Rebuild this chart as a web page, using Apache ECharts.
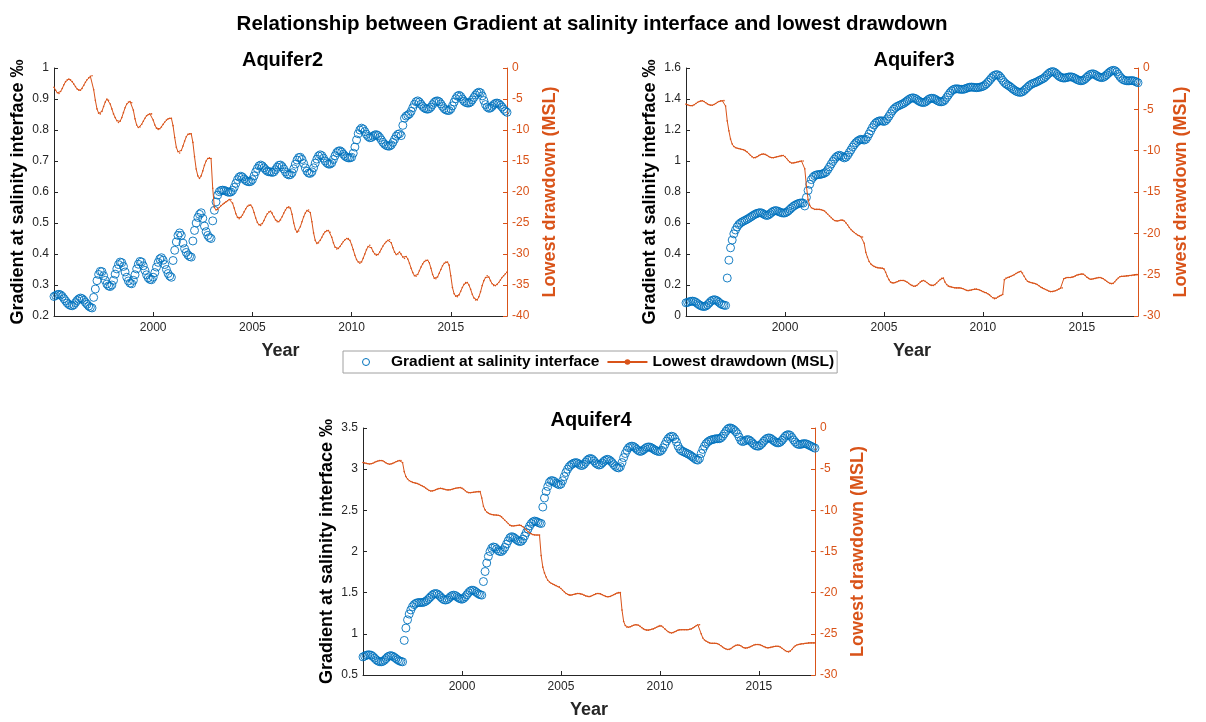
<!DOCTYPE html>
<html><head><meta charset="utf-8">
<script src="https://cdn.jsdelivr.net/npm/echarts@6/dist/echarts.min.js"></script>
<style>html,body{margin:0;padding:0;background:#fff}#c{width:1206px;height:722px}</style>
</head><body><div id="c"></div>
<script>
// monthly samples, Jan 1995 .. Nov 2017 (one row per year)
const startYear = 1995;
const xTickLabels = [2000, 2005, 2010, 2015];
const panelTitles = ['Aquifer2', 'Aquifer3', 'Aquifer4'];
const mainTitle = 'Relationship between Gradient at salinity interface and lowest drawdown';
const gradName = 'Gradient at salinity interface';
const drawName = 'Lowest drawdown (MSL)';

const a2Grad = [
[0.263,0.266,0.269,0.270,0.268,0.263,0.256,0.249,0.242,0.237,0.234,0.233],
[0.236,0.243,0.250,0.255,0.258,0.256,0.251,0.244,0.238,0.232,0.228,0.226],
[0.260,0.287,0.314,0.334,0.344,0.343,0.330,0.315,0.303,0.297,0.295,0.300],
[0.315,0.335,0.352,0.366,0.374,0.372,0.360,0.342,0.325,0.313,0.306,0.304],
[0.315,0.333,0.352,0.367,0.376,0.374,0.362,0.347,0.333,0.323,0.318,0.317],
[0.325,0.340,0.358,0.373,0.384,0.388,0.380,0.366,0.350,0.337,0.329,0.325],
[0.379,0.412,0.439,0.460,0.468,0.460,0.435,0.417,0.405,0.397,0.392,0.390],
[0.442,0.476,0.500,0.518,0.528,0.533,0.515,0.490,0.472,0.460,0.453,0.450],
[0.507,0.541,0.568,0.590,0.601,0.605,0.606,0.605,0.603,0.600,0.599,0.600],
[0.605,0.615,0.628,0.640,0.648,0.651,0.648,0.642,0.637,0.634,0.633,0.634],
[0.640,0.652,0.665,0.676,0.684,0.687,0.684,0.678,0.672,0.667,0.665,0.665],
[0.663,0.665,0.672,0.680,0.686,0.687,0.682,0.674,0.665,0.658,0.655,0.656],
[0.662,0.675,0.690,0.703,0.711,0.712,0.705,0.692,0.678,0.667,0.661,0.660],
[0.665,0.678,0.693,0.706,0.716,0.720,0.717,0.709,0.700,0.694,0.690,0.690],
[0.694,0.705,0.717,0.727,0.732,0.733,0.729,0.722,0.716,0.712,0.710,0.710],
[0.712,0.725,0.745,0.768,0.788,0.800,0.806,0.803,0.795,0.786,0.779,0.775],
[0.776,0.780,0.784,0.785,0.782,0.776,0.768,0.760,0.754,0.750,0.748,0.748],
[0.752,0.760,0.770,0.780,0.786,0.788,0.782,0.815,0.838,0.845,0.848,0.852],
[0.860,0.872,0.883,0.891,0.894,0.890,0.883,0.876,0.871,0.868,0.867,0.869],
[0.874,0.882,0.889,0.893,0.894,0.891,0.884,0.876,0.869,0.865,0.863,0.863],
[0.868,0.878,0.890,0.901,0.909,0.912,0.908,0.900,0.893,0.889,0.887,0.887],
[0.890,0.897,0.905,0.913,0.919,0.922,0.920,0.910,0.895,0.882,0.874,0.870],
[0.871,0.876,0.882,0.886,0.887,0.885,0.880,0.874,0.867,0.861,0.857]
];

const a2Draw = [
[-3.1,-3.6,-4.0,-4.1,-3.8,-3.3,-2.7,-2.2,-1.9,-1.8,-1.9,-2.2],
[-2.6,-3.0,-3.4,-3.6,-3.6,-3.3,-2.8,-2.3,-1.9,-1.6,-1.35,-1.25],
[-3.5,-5.2,-6.6,-7.3,-7.4,-7.0,-6.2,-5.5,-5.0,-5.2,-5.8,-6.6],
[-7.4,-8.0,-8.5,-8.8,-8.6,-8.0,-7.2,-6.4,-5.8,-5.5,-5.4,-5.6],
[-6.8,-8.2,-9.2,-9.6,-9.5,-9.1,-8.6,-8.1,-7.7,-7.5,-7.4,-7.4],
[-8.4,-9.2,-9.7,-9.9,-9.8,-9.5,-9.1,-8.7,-8.4,-8.2,-8.1,-8.1],
[-9.3,-11.2,-12.8,-13.5,-13.7,-13.3,-12.6,-11.8,-11.1,-10.7,-10.6,-10.6],
[-12.0,-14.3,-16.3,-17.4,-17.8,-17.4,-16.6,-15.7,-15.0,-14.6,-14.5,-14.6],
[-19.4,-22.5,-22.9,-22.8,-22.5,-22.2,-22.0,-21.8,-21.6,-21.4,-21.2,-21.2],
[-21.8,-22.6,-23.5,-24.1,-24.3,-24.1,-23.7,-23.2,-22.7,-22.3,-22.1,-22.1],
[-22.5,-23.3,-24.2,-24.9,-25.3,-25.4,-25.1,-24.6,-24.0,-23.5,-23.2,-23.1],
[-23.4,-24.0,-24.5,-24.8,-24.8,-24.5,-24.0,-23.4,-22.9,-22.5,-22.4,-22.6],
[-23.6,-25.0,-26.0,-26.5,-26.3,-25.6,-24.8,-24.0,-23.4,-23.0,-22.9,-23.3],
[-24.8,-26.6,-27.8,-28.3,-28.2,-27.8,-27.3,-26.8,-26.4,-26.2,-26.2,-26.5],
[-27.3,-28.2,-28.9,-29.2,-29.1,-28.8,-28.4,-28.0,-27.7,-27.5,-27.5,-27.8],
[-28.5,-29.3,-30.2,-30.9,-31.3,-31.5,-31.3,-30.7,-30.0,-29.3,-28.8,-28.6],
[-29.0,-29.6,-30.0,-30.2,-30.1,-29.7,-29.2,-28.7,-28.3,-28.0,-27.8,-27.7],
[-28.2,-29.0,-29.7,-30.1,-30.0,-29.7,-30.0,-30.5,-30.7,-30.4,-30.8,-31.5],
[-32.3,-33.0,-33.5,-33.6,-33.3,-32.7,-32.1,-31.6,-31.2,-31.0,-31.0,-31.4],
[-32.3,-33.3,-33.9,-34.0,-33.7,-33.1,-32.5,-31.9,-31.5,-31.3,-31.3,-31.8],
[-33.5,-35.4,-36.4,-36.8,-36.9,-36.6,-36.0,-35.4,-34.9,-34.6,-34.6,-35.0],
[-35.7,-36.5,-37.1,-37.4,-37.4,-36.9,-36.1,-35.1,-34.3,-33.8,-33.5,-33.7],
[-34.3,-34.8,-35.1,-35.1,-34.9,-34.6,-34.2,-33.8,-33.5,-33.2,-32.9]
];

const a3Grad = [
[0.085,0.088,0.092,0.095,0.096,0.094,0.088,0.080,0.072,0.066,0.062,0.061],
[0.064,0.072,0.083,0.094,0.102,0.105,0.103,0.097,0.088,0.079,0.073,0.070],
[0.068,0.245,0.360,0.440,0.490,0.530,0.555,0.575,0.590,0.600,0.607,0.613],
[0.618,0.624,0.630,0.637,0.644,0.651,0.657,0.662,0.665,0.667,0.664,0.658],
[0.652,0.648,0.652,0.660,0.669,0.676,0.680,0.679,0.675,0.670,0.666,0.664],
[0.665,0.670,0.678,0.688,0.698,0.707,0.714,0.720,0.725,0.728,0.730,0.728],
[0.710,0.765,0.810,0.850,0.880,0.895,0.905,0.910,0.912,0.913,0.915,0.918],
[0.922,0.930,0.945,0.962,0.980,0.997,1.012,1.025,1.033,1.037,1.033,1.025],
[1.020,1.025,1.038,1.055,1.072,1.090,1.105,1.118,1.128,1.135,1.140,1.138],
[1.135,1.140,1.155,1.175,1.195,1.215,1.232,1.245,1.253,1.258,1.260,1.258],
[1.255,1.260,1.272,1.288,1.305,1.322,1.335,1.345,1.352,1.357,1.362,1.367],
[1.372,1.380,1.388,1.396,1.403,1.407,1.407,1.403,1.396,1.388,1.382,1.378],
[1.377,1.380,1.388,1.397,1.403,1.405,1.404,1.399,1.392,1.386,1.382,1.382],
[1.385,1.395,1.410,1.425,1.440,1.452,1.460,1.465,1.466,1.465,1.463,1.462],
[1.462,1.465,1.469,1.473,1.476,1.477,1.476,1.474,1.473,1.474,1.476,1.478],
[1.482,1.488,1.497,1.508,1.520,1.533,1.545,1.553,1.557,1.556,1.548,1.535],
[1.520,1.507,1.497,1.490,1.483,1.475,1.466,1.458,1.451,1.446,1.443,1.443],
[1.447,1.455,1.465,1.475,1.485,1.493,1.499,1.503,1.507,1.512,1.518,1.524],
[1.529,1.535,1.545,1.556,1.566,1.573,1.577,1.575,1.568,1.558,1.548,1.541],
[1.537,1.535,1.536,1.539,1.542,1.543,1.542,1.538,1.532,1.526,1.521,1.518],
[1.518,1.522,1.530,1.540,1.550,1.558,1.562,1.562,1.557,1.550,1.544,1.540],
[1.538,1.540,1.547,1.556,1.566,1.575,1.582,1.585,1.583,1.574,1.560,1.545],
[1.533,1.525,1.520,1.518,1.517,1.518,1.519,1.518,1.515,1.510,1.505]
];

const a3Draw = [
[-4.37,-4.45,-4.53,-4.57,-4.55,-4.45,-4.3,-4.15,-4.05,-3.98,-3.97,-4.05],
[-4.2,-4.35,-4.45,-4.5,-4.5,-4.42,-4.3,-4.15,-4.05,-3.98,-3.96,-3.95],
[-4.6,-6.4,-7.6,-8.6,-9.2,-9.5,-9.65,-9.7,-9.75,-9.8,-9.85,-9.9],
[-10.0,-10.15,-10.35,-10.55,-10.75,-10.85,-10.85,-10.75,-10.6,-10.5,-10.42,-10.4],
[-10.45,-10.55,-10.7,-10.8,-10.85,-10.85,-10.8,-10.75,-10.7,-10.65,-10.6,-10.58],
[-10.7,-10.95,-11.2,-11.4,-11.5,-11.5,-11.45,-11.4,-11.35,-11.3,-11.25,-11.25],
[-12.2,-14.3,-15.9,-16.6,-16.9,-17.0,-17.1,-17.1,-17.1,-17.1,-17.15,-17.2],
[-17.3,-17.5,-17.7,-17.9,-18.1,-18.3,-18.45,-18.5,-18.5,-18.45,-18.4,-18.4],
[-18.5,-18.75,-19.0,-19.3,-19.55,-19.75,-19.9,-20.05,-20.2,-20.3,-20.4,-20.45],
[-21.2,-22.3,-22.9,-23.4,-23.7,-23.9,-24.0,-24.1,-24.15,-24.2,-24.2,-24.2],
[-24.3,-24.7,-25.2,-25.6,-25.9,-26.0,-26.0,-25.95,-25.85,-25.75,-25.7,-25.7],
[-25.7,-25.8,-25.9,-26.05,-26.2,-26.3,-26.4,-26.4,-26.3,-26.1,-25.9,-25.75],
[-25.7,-25.8,-25.95,-26.1,-26.25,-26.3,-26.3,-26.2,-26.0,-25.8,-25.6,-25.45],
[-25.4,-25.9,-26.2,-26.4,-26.45,-26.5,-26.55,-26.6,-26.6,-26.6,-26.6,-26.65],
[-26.7,-26.8,-26.9,-26.95,-26.9,-26.85,-26.8,-26.75,-26.75,-26.8,-26.85,-26.95],
[-27.05,-27.15,-27.2,-27.3,-27.45,-27.65,-27.8,-27.9,-27.85,-27.7,-27.6,-27.5],
[-27.4,-25.6,-25.4,-25.35,-25.3,-25.2,-25.1,-25.0,-24.85,-24.75,-24.65,-24.6],
[-24.8,-25.2,-25.55,-25.8,-25.9,-25.95,-26.0,-26.05,-26.1,-26.2,-26.35,-26.5],
[-26.6,-26.7,-26.8,-26.9,-27.0,-27.05,-27.05,-27.0,-26.95,-26.85,-26.75,-26.65],
[-26.6,-25.5,-25.4,-25.35,-25.35,-25.35,-25.3,-25.25,-25.15,-25.05,-25.0,-24.95],
[-24.9,-24.95,-25.1,-25.3,-25.45,-25.55,-25.55,-25.5,-25.45,-25.4,-25.35,-25.35],
[-25.4,-25.5,-25.65,-25.8,-25.95,-26.05,-26.1,-26.05,-25.85,-25.6,-25.4,-25.25],
[-25.2,-25.2,-25.2,-25.15,-25.15,-25.1,-25.1,-25.05,-25.05,-25.0,-25.0]
];

const a4Grad = [
[0.72,0.73,0.74,0.745,0.745,0.74,0.725,0.705,0.685,0.67,0.662,0.66],
[0.665,0.68,0.70,0.72,0.732,0.735,0.728,0.715,0.70,0.685,0.672,0.664],
[0.66,0.92,1.07,1.17,1.24,1.29,1.33,1.355,1.37,1.378,1.38,1.38],
[1.38,1.385,1.395,1.41,1.43,1.45,1.47,1.485,1.49,1.485,1.47,1.45],
[1.43,1.415,1.41,1.415,1.43,1.45,1.465,1.47,1.465,1.45,1.435,1.425],
[1.42,1.43,1.45,1.475,1.50,1.52,1.53,1.528,1.515,1.50,1.485,1.475],
[1.47,1.635,1.757,1.86,1.94,2.0,2.04,2.055,2.05,2.03,2.01,2.0],
[2.0,2.02,2.05,2.09,2.13,2.165,2.18,2.175,2.16,2.145,2.13,2.12],
[2.125,2.15,2.19,2.23,2.27,2.31,2.34,2.36,2.37,2.365,2.355,2.345],
[2.34,2.54,2.65,2.73,2.79,2.84,2.86,2.86,2.85,2.83,2.82,2.81],
[2.82,2.86,2.91,2.96,3.0,3.03,3.05,3.065,3.075,3.08,3.075,3.06],
[3.045,3.045,3.06,3.085,3.11,3.125,3.13,3.12,3.1,3.075,3.06,3.05],
[3.055,3.075,3.095,3.11,3.12,3.115,3.1,3.08,3.055,3.035,3.02,3.015],
[3.03,3.08,3.14,3.19,3.23,3.26,3.275,3.28,3.275,3.26,3.24,3.225],
[3.215,3.22,3.235,3.25,3.265,3.27,3.268,3.258,3.245,3.232,3.222,3.215],
[3.215,3.23,3.26,3.3,3.34,3.37,3.39,3.40,3.395,3.37,3.33,3.28],
[3.245,3.225,3.215,3.205,3.195,3.185,3.175,3.16,3.145,3.13,3.115,3.11],
[3.13,3.19,3.24,3.28,3.31,3.33,3.345,3.355,3.36,3.365,3.37,3.37],
[3.37,3.38,3.4,3.43,3.46,3.485,3.5,3.5,3.49,3.475,3.455,3.43],
[3.39,3.35,3.335,3.34,3.35,3.36,3.355,3.34,3.32,3.30,3.285,3.28],
[3.28,3.295,3.315,3.34,3.36,3.375,3.38,3.375,3.36,3.345,3.33,3.32],
[3.32,3.33,3.35,3.375,3.4,3.415,3.42,3.41,3.385,3.355,3.33,3.31],
[3.30,3.30,3.305,3.31,3.31,3.305,3.295,3.285,3.275,3.265,3.255]
];

const a4Draw = [
[-4.19,-4.25,-4.3,-4.35,-4.37,-4.35,-4.28,-4.18,-4.08,-4.0,-3.96,-3.95],
[-3.98,-4.1,-4.25,-4.35,-4.4,-4.38,-4.3,-4.2,-4.1,-4.0,-3.96,-3.95],
[-4.2,-5.3,-5.9,-6.2,-6.4,-6.5,-6.6,-6.65,-6.7,-6.75,-6.85,-6.95],
[-7.05,-7.15,-7.3,-7.45,-7.6,-7.65,-7.65,-7.6,-7.5,-7.42,-7.36,-7.33],
[-7.36,-7.42,-7.48,-7.52,-7.52,-7.5,-7.45,-7.38,-7.32,-7.28,-7.25,-7.24],
[-7.3,-7.45,-7.62,-7.78,-7.86,-7.86,-7.84,-7.8,-7.77,-7.75,-7.73,-7.73],
[-8.5,-9.5,-9.95,-10.2,-10.35,-10.45,-10.5,-10.55,-10.57,-10.58,-10.6,-10.65],
[-10.8,-11.0,-11.2,-11.4,-11.6,-11.8,-11.9,-11.9,-11.88,-11.85,-11.82,-11.8],
[-11.85,-12.0,-12.2,-12.4,-12.6,-12.75,-12.85,-12.95,-13.0,-13.0,-13.0,-13.0],
[-15.5,-16.9,-17.6,-18.1,-18.5,-18.7,-18.85,-18.95,-19.05,-19.15,-19.25,-19.3],
[-19.5,-19.7,-19.9,-20.1,-20.2,-20.3,-20.3,-20.25,-20.2,-20.15,-20.1,-20.1],
[-20.15,-20.2,-20.3,-20.4,-20.45,-20.5,-20.45,-20.35,-20.25,-20.15,-20.1,-20.1],
[-20.15,-20.25,-20.35,-20.45,-20.5,-20.5,-20.45,-20.35,-20.25,-20.15,-20.05,-20.0],
[-20.0,-22.1,-23.5,-24.0,-24.2,-24.2,-24.15,-24.05,-23.95,-23.9,-23.9,-23.95],
[-24.1,-24.25,-24.4,-24.5,-24.55,-24.55,-24.5,-24.45,-24.4,-24.3,-24.2,-24.1],
[-24.0,-24.05,-24.2,-24.4,-24.6,-24.75,-24.85,-24.9,-24.85,-24.75,-24.65,-24.55],
[-24.5,-24.5,-24.5,-24.5,-24.5,-24.5,-24.45,-24.4,-24.3,-24.15,-24.0,-23.9],
[-23.9,-25.0,-25.5,-25.75,-25.9,-26.0,-26.1,-26.15,-26.15,-26.15,-26.15,-26.2],
[-26.3,-26.45,-26.6,-26.75,-26.85,-26.9,-26.9,-26.8,-26.65,-26.5,-26.4,-26.35],
[-26.35,-26.45,-26.6,-26.7,-26.75,-26.7,-26.65,-26.55,-26.45,-26.35,-26.3,-26.3],
[-26.3,-26.35,-26.45,-26.55,-26.65,-26.7,-26.7,-26.65,-26.6,-26.55,-26.5,-26.5],
[-26.5,-26.6,-26.75,-26.9,-27.05,-27.15,-27.2,-27.1,-26.9,-26.65,-26.45,-26.35],
[-26.3,-26.25,-26.2,-26.2,-26.15,-26.15,-26.1,-26.1,-26.1,-26.1,-26.1]
];

// left-axis [min, max, step] and right-axis [min, max, step] per panel
const leftRanges = [[0.2, 1, 0.1], [0, 1.6, 0.2], [0.5, 3.5, 0.5]];
const rightRanges = [[-40, 0, 5], [-30, 0, 5], [-30, 0, 5]];

const FONT = '"Liberation Sans", Arial, Helvetica, sans-serif';
const BLUE = '#0072BD', ORANGE = '#D95319', AX = '#262626';

function toPoints(rows) {
  return rows.flat().map((v, i) => [startYear + i / 12, v]);
}
const gradSets = [a2Grad, a3Grad, a4Grad].map(toPoints);
const drawSets = [a2Draw, a3Draw, a4Draw].map(toPoints);
const xMax = startYear + (gradSets[0].length - 1) / 12;

const grids = [
  { left: 54, top: 68, width: 453, height: 248 },
  { left: 686, top: 68, width: 452, height: 248 },
  { left: 363, top: 428, width: 452, height: 247 }
];

const option = {
  animation: false,
  backgroundColor: '#fff',
  textStyle: { fontFamily: FONT },
  title: [
    { text: mainTitle, left: 587, top: 9, textAlign: 'center',
      textStyle: { fontFamily: FONT, fontSize: 20.5, fontWeight: 'bold', color: '#000' } }
  ].concat(panelTitles.map((t, k) => ({
    text: t, left: grids[k].left + grids[k].width / 2 - 3, top: grids[k].top - 23, textAlign: 'center',
    textStyle: { fontFamily: FONT, fontSize: 20, fontWeight: 'bold', color: '#000' }
  }))),
  legend: {
    left: 343, top: 351, orient: 'horizontal',
    padding: [3, 3, 3, 19], itemGap: 7, itemWidth: 40, itemHeight: 7,
    borderColor: '#a0a0a0', borderWidth: 1, backgroundColor: '#fff',
    textStyle: { fontFamily: FONT, fontSize: 15.5, fontWeight: 'bold', color: '#000' },
    data: [
      { name: gradName, icon: 'circle', itemStyle: { color: 'rgba(0,0,0,0)', borderColor: BLUE, borderWidth: 1 } },
      { name: drawName }
    ]
  },
  grid: grids.map(g => Object.assign({ containLabel: false }, g)),
  xAxis: grids.map((g, k) => ({
    type: 'value', gridIndex: k, min: startYear, max: xMax, interval: 5,
    name: 'Year', nameLocation: 'middle', nameGap: 26,
    nameTextStyle: { fontFamily: FONT, fontSize: 18, fontWeight: 'bold', color: AX },
    axisLine: { show: true, onZero: false, lineStyle: { color: AX, width: 1 } },
    axisTick: { show: true, inside: true, length: 4, lineStyle: { color: AX } },
    splitLine: { show: false },
    axisLabel: {
      fontFamily: FONT, fontSize: 12, color: AX, margin: 6,
      showMinLabel: false, showMaxLabel: false,
      formatter: v => (xTickLabels.indexOf(Math.round(v)) >= 0 && Math.abs(v - Math.round(v)) < 1e-6) ? String(Math.round(v)) : ''
    }
  })),
  yAxis: [],
  series: []
};

grids.forEach((g, k) => {
  const L = leftRanges[k], R = rightRanges[k];
  option.yAxis.push({
    type: 'value', gridIndex: k, position: 'left', min: L[0], max: L[1], interval: L[2],
    name: 'Gradient at salinity interface ‰', nameLocation: 'middle', nameRotate: 90, nameGap: 27,
    nameTextStyle: { fontFamily: FONT, fontSize: 18, fontWeight: 'bold', color: '#000' },
    axisLine: { show: true, onZero: false, lineStyle: { color: AX, width: 1 } },
    axisTick: { show: true, inside: true, length: 4, lineStyle: { color: AX } },
    splitLine: { show: false },
    axisLabel: { fontFamily: FONT, fontSize: 12, color: AX, margin: 5 }
  });
  option.yAxis.push({
    type: 'value', gridIndex: k, position: 'right', min: R[0], max: R[1], interval: R[2],
    name: drawName, nameLocation: 'middle', nameRotate: 90, nameGap: 34,
    nameTextStyle: { fontFamily: FONT, fontSize: 18, fontWeight: 'bold', color: ORANGE },
    axisLine: { show: true, onZero: false, lineStyle: { color: ORANGE, width: 1 } },
    axisTick: { show: true, inside: true, length: 4, lineStyle: { color: ORANGE } },
    splitLine: { show: false },
    axisLabel: { fontFamily: FONT, fontSize: 12, color: ORANGE, margin: 5 }
  });
  option.series.push({
    name: gradName, type: 'scatter', xAxisIndex: k, yAxisIndex: 2 * k,
    data: gradSets[k], symbol: 'circle', symbolSize: 8, z: 2,
    itemStyle: { color: 'rgba(0,0,0,0)', borderColor: BLUE, borderWidth: 0.9, opacity: 1 },
    emphasis: { disabled: true }
  });
  option.series.push({
    name: drawName, type: 'line', xAxisIndex: k, yAxisIndex: 2 * k + 1,
    data: drawSets[k], symbol: 'circle', symbolSize: 1.6, showSymbol: true, showAllSymbol: true, z: 3,
    lineStyle: { color: ORANGE, width: 1 }, itemStyle: { color: ORANGE },
    emphasis: { disabled: true }
  });
});

const chart = echarts.init(document.getElementById('c'), null, { renderer: 'canvas' });
chart.setOption(option);
</script>
</body></html>
